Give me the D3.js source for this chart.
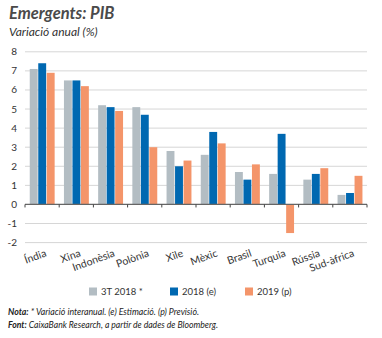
<!DOCTYPE html>
<html><head><meta charset="utf-8">
<script src="https://cdn.jsdelivr.net/npm/d3@7"></script>
<style>body{margin:0;background:#fff;} svg{display:block;font-family:Lato,"Open Sans",sans-serif;}</style>
</head><body><div id="chart"></div>
<script>
const categories = ["Índia","Xina","Indonèsia","Polònia","Xile","Mèxic","Brasil","Turquia","Rússia","Sud-àfrica"];
const seriesNames = ["3T 2018 *","2018 (e)","2019 (p)"];
const s3T2018 = [7.1,6.5,5.2,5.1,2.8,2.6,1.7,1.6,1.3,0.5];
const s2018e  = [7.4,6.5,5.1,4.7,2.0,3.8,1.3,3.7,1.6,0.6];
const s2019p  = [6.9,6.2,4.9,3.0,2.3,3.2,2.1,-1.5,1.9,1.5];
const yTicks = [-2,-1,0,1,2,3,4,5,6,7,8];
const colors = ["#b3bdc3","#0068b1","#f4956a"];

const W=382,H=338;
const svg=d3.select("#chart").append("svg").attr("width",W).attr("height",H);
const x=d3.scaleBand().domain(categories).range([25,367]);
const xs=d3.scaleBand().domain(seriesNames).range([0,25.5]);
const y=d3.scaleLinear().domain([-2,8]).range([242.6,51.8]);
const data=[s3T2018,s2018e,s2019p];

svg.append("text").attr("x",9).attr("y",19).attr("font-size",16.5).attr("font-weight","bold").attr("font-style","italic").attr("fill","#4a4a4a").text("Emergents: PIB");
svg.append("text").attr("x",9).attr("y",36).attr("font-size",12).attr("font-style","italic").attr("fill","#333").text("Variació anual (%)");

// grid
svg.append("g").selectAll("line").data(yTicks.filter(d=>d!==0)).join("line")
 .attr("x1",25).attr("x2",367).attr("y1",d=>y(d)).attr("y2",d=>y(d)).attr("stroke","#d6d6d6").attr("stroke-width",1);
svg.append("g").selectAll("text").data(yTicks).join("text")
 .attr("x",17).attr("y",d=>y(d)+3.5).attr("text-anchor","end").attr("font-size",10).attr("fill","#333").text(d=>d);

// bars
const off=(x.bandwidth()-xs.range()[1])/2+0.4;
data.forEach((vals,si)=>{
  svg.append("g").selectAll("rect").data(vals).join("rect")
   .attr("x",(d,i)=>x(categories[i])+off+xs(seriesNames[si]))
   .attr("width",xs.bandwidth()-0.6)
   .attr("y",d=>y(Math.max(0,d))).attr("height",d=>Math.abs(y(d)-y(0)))
   .attr("fill",colors[si]);
});

// baseline + ticks
svg.append("line").attr("x1",25).attr("x2",367).attr("y1",y(0)).attr("y2",y(0)).attr("stroke","#666").attr("stroke-width",1.2);
svg.append("g").selectAll("line").data(categories.concat(["end"])).join("line")
 .attr("x1",(d,i)=>25+i*x.step()).attr("x2",(d,i)=>25+i*x.step())
 .attr("y1",y(0)).attr("y2",y(0)+3).attr("stroke","#444").attr("stroke-width",1);

// x labels
svg.append("g").selectAll("text").data(categories).join("text")
 .attr("transform",d=>`translate(${x(d)+x.bandwidth()/2+5},256) rotate(-20)`)
 .attr("text-anchor","end").attr("font-size",10.5).attr("fill","#333").text(d=>d);

// legend
const lx=[89,170,245];
seriesNames.forEach((n,i)=>{
  svg.append("rect").attr("x",lx[i]).attr("y",287.5).attr("width",8).attr("height",8).attr("fill",colors[i]);
  svg.append("text").attr("x",lx[i]+12).attr("y",295).attr("font-size",9.5).attr("fill","#333").text(n);
});

// notes
const n1=svg.append("text").attr("x",8).attr("y",315).attr("font-size",9).attr("font-style","italic").attr("fill","#222")
 .attr("textLength",191).attr("lengthAdjust","spacingAndGlyphs");
n1.append("tspan").attr("font-weight","bold").text("Nota:");
n1.append("tspan").text(" * Variació interanual. (e) Estimació. (p) Previsió.");
const n2=svg.append("text").attr("x",8).attr("y",328).attr("font-size",9).attr("font-style","italic").attr("fill","#222")
 .attr("textLength",210).attr("lengthAdjust","spacingAndGlyphs");
n2.append("tspan").attr("font-weight","bold").text("Font:");
n2.append("tspan").text(" CaixaBank Research, a partir de dades de Bloomberg.");
</script></body></html>
